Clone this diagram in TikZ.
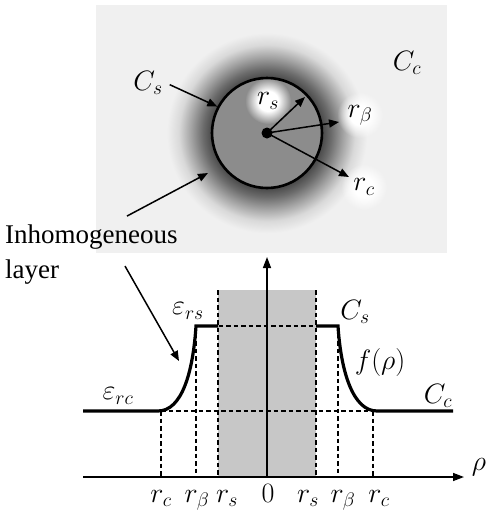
\RequirePackage{fix-cm}
\documentclass[tikz,border=0pt]{standalone}
\usepackage{fontspec}
\setmainfont{Liberation Serif}
\usetikzlibrary{arrows.meta,fadings}

\definecolor{bgcol}{gray}{0.94}
\definecolor{corecol}{gray}{0.55}
\definecolor{bandcol}{gray}{0.78}

% dark halo of the inhomogeneous layer
\pgfdeclareradialshading{halo}{\pgfpointorigin}{color(0bp)=(black!70); color(14bp)=(black!70); color(16bp)=(black!58); color(19bp)=(black!36); color(22bp)=(black!15); color(25bp)=(bgcol); color(50bp)=(bgcol)}
% soft white patch behind the radius labels
\pgfdeclareradialshading{softdotshade}{\pgfpointorigin}{color(0bp)=(white); color(11bp)=(white); color(25bp)=(black); color(50bp)=(black)}
\pgfdeclarefading{softdot}{\pgfuseshading{softdotshade}}

\begin{document}
\begin{tikzpicture}[
  x=1pt, y=-1pt,
  font=\fontsize{28}{28}\selectfont,
  arrow/.style={-{Triangle[length=10pt,width=8pt]}, line width=1.5pt},
  axis/.style={-{Triangle[length=11pt,width=8pt]}, line width=1.4pt},
  guide/.style={dash pattern=on 4.5pt off 3pt, line width=1.2pt},
  profile/.style={line width=3.2pt},
  haze/.style={circle, inner sep=0pt, minimum size=46pt, preaction={fill=white, path fading=softdot}},
  tick/.style={inner sep=0pt, anchor=base}
]
\useasboundingbox (0,0) rectangle (491,517);

% cross-section of the cylinder
\fill[bgcol] (96,5) rectangle (447,253);
\shade[shading=halo] (267,133) circle (100);
\node[circle, draw, line width=2.6pt, fill=corecol, minimum size=110pt, inner sep=0pt] (core) at (267,133) {};
\fill (core.center) circle (5.5);

\node[haze] (rs) at (268,101) {$r_s$};
\node[haze] (rb) at (360,115) {$r_\beta$};
\node[haze] (rc) at (364,187) {$r_c$};
\node (Cs) at (148,83) {$C_s$};
\node (Cc) at (407,63) {$C_c$};

\coordinate (tipS) at (305,97);
\coordinate (tipB) at (339,122);
\coordinate (tipC) at (349,177);
\coordinate (layerA) at (208,173);
\coordinate (layerB) at (179,361);

\draw[arrow] (core.center) -- (tipS);
\draw[arrow] (core.center) -- (tipB);
\draw[arrow] (core.center) -- (tipC);
\draw[arrow, shorten <=4pt] (Cs.east) -- (core.152);

\node[anchor=base west, align=left, inner sep=0pt, font=\fontsize{27}{35}\selectfont] (inh) at (5,278) {Inhomogeneous\\layer};
\draw[arrow] ([xshift=122pt, yshift=8pt]inh.north west) -- (layerA);
\draw[arrow] ([xshift=120pt, yshift=-42pt]inh.north west) -- (layerB);

% permittivity profile
\fill[bandcol] (218,290) rectangle (316,477);
\draw[guide] (218,290) -- (218,477);
\draw[guide] (316,290) -- (316,477);
\draw[guide] (196,326) -- (338,326);
\draw[guide] (161,411) -- (373,411);
\draw[guide] (196,326) -- (196,477);
\draw[guide] (338,326) -- (338,477);
\draw[guide] (161,411) -- (161,477);
\draw[guide] (373,411) -- (373,477);

\draw[profile] (83,411) -- (158,411) .. controls (182,411) and (193,372) .. (196,326) -- (218,326);
\draw[profile] (316,326) -- (338,326) .. controls (341,372) and (353,411) .. (377,411) -- (453,411);

\draw[axis] (83,477) -- (464,477);
\draw[axis] (267,477) -- (267,257);

\node (ers) at (188,311) {$\varepsilon_{rs}$};
\node (Cs2) at (355,312) {$C_s$};
\node (frho) at (380,362) {$f(\rho)$};
\node (erc) at (118,396) {$\varepsilon_{rc}$};
\node (Cc2) at (438,396) {$C_c$};
\node (rho) at (479,467) {$\rho$};

\foreach \x/\t in {161/r_c, 197/r_\beta, 227/r_s, 268/0, 308/r_s, 343/r_\beta, 379/r_c}
  \node[tick] at (\x,502) {$\t$};
\end{tikzpicture}
\end{document}
